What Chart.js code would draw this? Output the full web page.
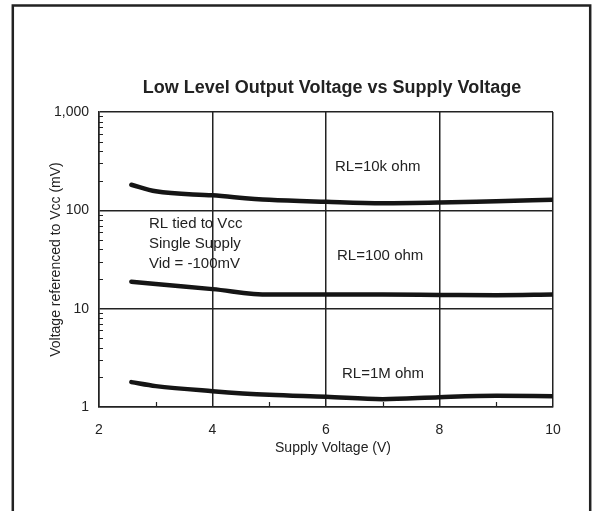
<!DOCTYPE html>
<html><head><meta charset="utf-8">
<script src="https://cdn.jsdelivr.net/npm/chart.js@4.4.0/dist/chart.umd.min.js"></script>
<style>html,body{margin:0;padding:0;background:#fff;overflow:hidden}canvas{display:block}</style>
</head><body>
<canvas id="c" width="601" height="511"></canvas>
<script>
// Data
const supplyVoltage = [2.57, 3, 4, 5, 6, 7, 8, 9, 10];
const rl10k  = [182, 156, 142, 128, 122, 118, 120, 124, 128];
const rl100  = [18.8, 17.8, 15.8, 13.9, 13.9, 13.9, 13.8, 13.7, 13.9];
const rl1M   = [1.79, 1.63, 1.45, 1.33, 1.27, 1.20, 1.26, 1.30, 1.29];
const xTickValues = [2, 4, 6, 8, 10];
const xMinorTicks = [3, 5, 7, 9];
const yTickValues = [1, 10, 100, 1000];
const yTickLabels = ['1', '10', '100', '1,000'];
const chartTitle = 'Low Level Output Voltage vs Supply Voltage';
const xTitle = 'Supply Voltage (V)';
const yTitle = 'Voltage referenced to Vcc (mV)';
const notes = [
  {text: 'RL=10k ohm', x: 335, y: 171},
  {text: 'RL tied to Vcc', x: 149, y: 228},
  {text: 'Single Supply', x: 149, y: 248},
  {text: 'Vid = -100mV', x: 149, y: 268},
  {text: 'RL=100 ohm', x: 337, y: 260},
  {text: 'RL=1M ohm', x: 342, y: 378}
];

const FONT = '"Liberation Sans", Arial, Helvetica, sans-serif';
Chart.defaults.font.family = FONT;
Chart.defaults.color = '#222';

function pts(ys) { return supplyVoltage.map((x, i) => ({x, y: ys[i]})); }
const lineStyle = {borderColor: '#151515', borderWidth: 4.5, pointRadius: 0, fill: false, cubicInterpolationMode: 'monotone', borderCapStyle: 'round'};

const decor = {
  id: 'decor',
  beforeDraw(chart) {
    const ctx = chart.ctx;
    ctx.save();
    ctx.fillStyle = '#fff';
    ctx.fillRect(0, 0, chart.width, chart.height);
    ctx.strokeStyle = '#222';
    ctx.lineWidth = 2.5;
    ctx.strokeRect(12.8, 5.5, 577.4, 540);
    ctx.restore();
  },
  afterDraw(chart) {
    const ctx = chart.ctx;
    const xs = chart.scales.x, ys = chart.scales.y, a = chart.chartArea;
    ctx.save();
    ctx.strokeStyle = '#222';
    ctx.lineWidth = 1.2;
    ctx.beginPath();
    xMinorTicks.forEach(v => {
      const px = Math.round(xs.getPixelForValue(v)) + 0.5;
      ctx.moveTo(px, a.bottom); ctx.lineTo(px, a.bottom - 5);
    });
    [1, 10, 100].forEach(d => {
      for (let m = 2; m <= 9; m++) {
        const py = Math.round(ys.getPixelForValue(m * d)) + 0.5;
        ctx.moveTo(a.left, py); ctx.lineTo(a.left + 4, py);
      }
    });
    ctx.stroke();
    ctx.fillStyle = '#222';
    ctx.font = 'bold 18px ' + FONT;
    ctx.textAlign = 'center';
    ctx.textBaseline = 'alphabetic';
    ctx.fillText(chartTitle, 332, 93);
    ctx.font = '14px ' + FONT;
    ctx.fillText(xTitle, 333, 452);
    ctx.save();
    ctx.translate(59.5, 259.5);
    ctx.rotate(-Math.PI / 2);
    ctx.fillText(yTitle, 0, 0);
    ctx.restore();
    ctx.textAlign = 'left';
    ctx.font = '15px ' + FONT;
    notes.forEach(n => ctx.fillText(n.text, n.x, n.y));
    ctx.restore();
  }
};

new Chart(document.getElementById('c'), {
  type: 'line',
  data: {
    datasets: [
      Object.assign({label: 'RL=10k ohm', data: pts(rl10k)}, lineStyle),
      Object.assign({label: 'RL=100 ohm', data: pts(rl100)}, lineStyle),
      Object.assign({label: 'RL=1M ohm', data: pts(rl1M)}, lineStyle)
    ]
  },
  options: {
    responsive: false,
    animation: false,
    devicePixelRatio: 1,
    layout: {padding: {left: 0, right: 48, top: 112, bottom: 0}},
    plugins: {legend: {display: false}, title: {display: false}, tooltip: {enabled: false}},
    scales: {
      x: {
        type: 'linear', min: 2, max: 10,
        afterFit(s) { s.height = 104; },
        afterBuildTicks(s) { s.ticks = xTickValues.map(v => ({value: v})); },
        ticks: {padding: 15, font: {size: 14}, color: '#222', maxRotation: 0, callback: v => String(v)},
        grid: {color: '#222', lineWidth: 1.5, drawTicks: false},
        border: {display: true, color: '#222', width: 1.5}
      },
      y: {
        type: 'logarithmic', min: 1, max: 1000,
        afterFit(s) { s.width = 99; },
        afterBuildTicks(s) { s.ticks = yTickValues.map(v => ({value: v})); },
        ticks: {padding: 10, font: {size: 14}, color: '#222', callback: v => yTickLabels[yTickValues.indexOf(v)] ?? ''},
        grid: {color: '#222', lineWidth: 1.5, drawTicks: false},
        border: {display: true, color: '#222', width: 1.5}
      }
    }
  },
  plugins: [decor]
});
</script>
</body></html>
